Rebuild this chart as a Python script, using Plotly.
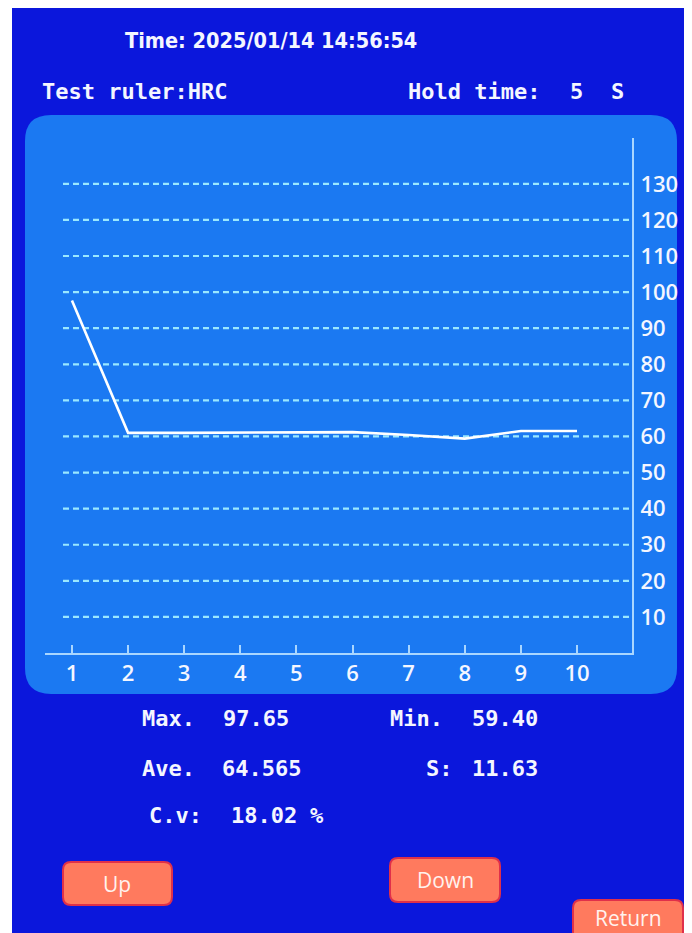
import plotly.graph_objects as go

# ---- data ----
test_no = [1, 2, 3, 4, 5, 6, 7, 8, 9, 10]
hardness = [97.65, 61.0, 61.0, 61.0, 61.0, 61.2, 60.4, 59.4, 61.5, 61.5]
y_ticks = [10, 20, 30, 40, 50, 60, 70, 80, 90, 100, 110, 120, 130]

time_text = "Time: 2025/01/14 14:56:54"
ruler_text = "Test ruler:HRC"
hold_label = "Hold time:"
hold_value = "5"
hold_unit = "S"
stat_labels = ["Max.", "Min.", "Ave.", "S:", "C.v:"]
stat_values = ["97.65", "59.40", "64.565", "11.63", "18.02"]
cv_unit = "%"
buttons = ["Up", "Down", "Return"]

# ---- geometry (page pixels; the page body adds an 8px offset) ----
OX, OY = 8, 8
FW, FH = 692 - OX, 933 - OY
L, R, T, B = 45, 632, 138, 653
W, H = R - L, B - T


def px(x):
    return (x - L) / W


def py(y):
    return (B - y) / H


def rrect(x0, y0, x1, y1, r):
    pts = [
        ("M", px(x0 + r), py(y0)),
        ("L", px(x1 - r), py(y0)),
        ("Q", px(x1), py(y0), px(x1), py(y0 + r)),
        ("L", px(x1), py(y1 - r)),
        ("Q", px(x1), py(y1), px(x1 - r), py(y1)),
        ("L", px(x0 + r), py(y1)),
        ("Q", px(x0), py(y1), px(x0), py(y1 - r)),
        ("L", px(x0), py(y0 + r)),
        ("Q", px(x0), py(y0), px(x0 + r), py(y0)),
    ]
    s = ""
    for p in pts:
        s += p[0] + " " + " ".join(f"{v:.5f}" for v in p[1:]) + " "
    return s + "Z"


DARK = "#0b17dc"
PANEL = "#1b79f2"
GRID = "#9ae8ff"
AXIS = "#a9d6ff"
TXT = "#f4f6ff"

fig = go.Figure()
fig.add_trace(go.Scatter(
    x=test_no, y=hardness, mode="lines",
    line=dict(color="white", width=2.6),
    hoverinfo="skip", showlegend=False,
))

shapes = []
# panel
shapes.append(dict(type="path", xref="paper", yref="paper", layer="below",
                   path=rrect(25, 115, 677, 694, 26),
                   fillcolor=PANEL, line=dict(width=0)))
# gridlines
for v in y_ticks:
    shapes.append(dict(type="line", xref="paper", yref="y",
                       x0=px(63), x1=1, y0=v, y1=v, layer="below",
                       line=dict(color=GRID, width=2.2, dash="6px,4px")))
# buttons
btn_boxes = [(63, 862, 172, 905), (390, 858, 500, 902), (573, 900, 683, 945)]
for (x0, y0, x1, y1) in btn_boxes:
    shapes.append(dict(type="path", xref="paper", yref="paper", layer="above",
                       path=rrect(x0, y0, x1, y1, 8),
                       fillcolor="#ff7a5e", line=dict(color="#e0304a", width=2)))
# white photo borders (left / right)
for (x0, y0, x1, y1) in [(6, 0, 12, 940), (685, 0, 700, 940)]:
    shapes.append(dict(type="rect", xref="paper", yref="paper", layer="above",
                       x0=px(x0), x1=px(x1), y0=py(y1), y1=py(y0),
                       fillcolor="white", line=dict(width=0)))

ann = []


def add_text(t, x, y, size=22, family="DejaVu Sans Mono", weight="bold",
             xanchor="left", color=TXT):
    ann.append(dict(text=t, x=px(x), y=py(y), xref="paper",
                    yref="paper", xanchor=xanchor, yanchor="middle",
                    showarrow=False,
                    font=dict(family=family, size=size, color=color,
                              weight=weight)))


add_text(time_text, 123, 40, size=21.5, family="DejaVu Sans Condensed, Open Sans")
add_text(ruler_text, 40, 91, size=22)
add_text(hold_label, 406, 91, size=22)
add_text(hold_value, 576, 91, size=22, xanchor="center")
add_text(hold_unit, 617, 91, size=22, xanchor="center")

add_text(stat_labels[0], 140, 718)
add_text(stat_values[0], 221, 718)
add_text(stat_labels[1], 388, 718)
add_text(stat_values[1], 470, 718)
add_text(stat_labels[2], 140, 768)
add_text(stat_values[2], 220, 768)
add_text(stat_labels[3], 424, 768)
add_text(stat_values[3], 470, 768)
add_text(stat_labels[4], 147, 815)
add_text(stat_values[4], 229, 815)
add_text(cv_unit, 308, 815)

btn_centers = [(117, 884), (445, 880), (628, 918)]
for t, (cx, cy) in zip(buttons, btn_centers):
    add_text(t, cx, cy, size=21, family="Open Sans", weight="normal",
             xanchor="center", color="#fff2ee")

fig.update_layout(
    width=FW, height=FH,
    margin=dict(l=L - OX, r=(692 - R), t=T - OY, b=(933 - B), pad=0),
    paper_bgcolor=DARK, plot_bgcolor="rgba(0,0,0,0)",
    shapes=shapes, annotations=ann, showlegend=False,
    xaxis=dict(range=[0.52, 10.98], tickvals=test_no, ticks="inside",
               ticklen=8, tickwidth=2, tickcolor=AXIS, showline=True,
               linecolor=AXIS, linewidth=2, showgrid=False, zeroline=False,
               tickfont=dict(family="Open Sans", size=22, color=TXT, weight=600),
               fixedrange=True),
    yaxis=dict(range=[0, 142.7], side="right", tickvals=y_ticks, ticks="",
               showline=True, linecolor=AXIS, linewidth=2, showgrid=False,
               zeroline=False, ticklabelstandoff=2,
               tickfont=dict(family="Open Sans", size=22, color=TXT, weight=600),
               fixedrange=True),
)

fig.write_html("out.html")
